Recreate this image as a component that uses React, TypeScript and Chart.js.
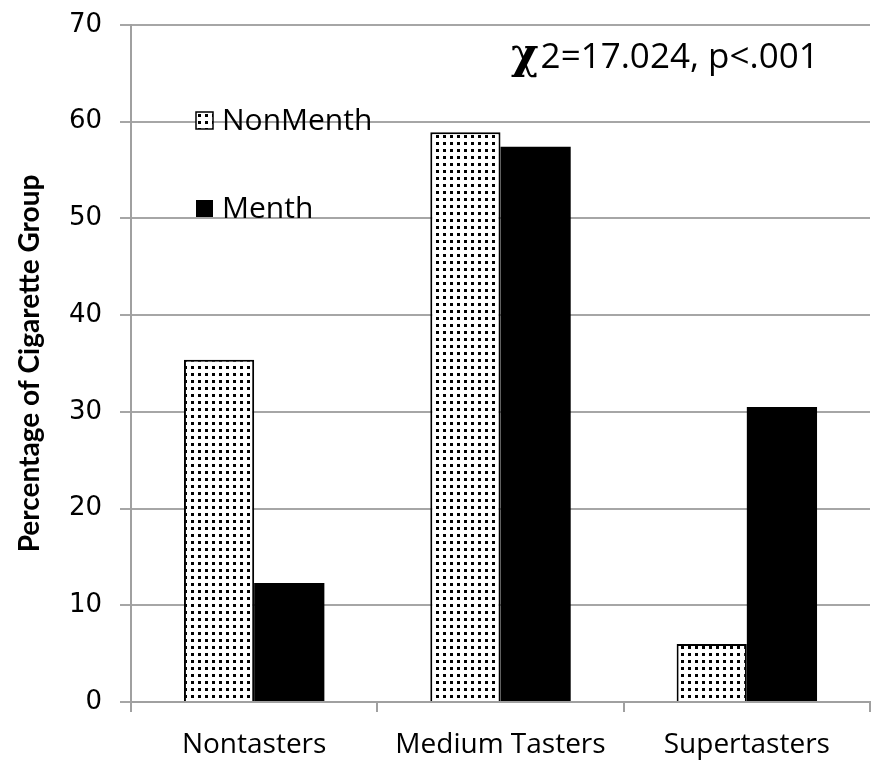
import React, { useEffect, useRef } from "react";
import { Chart, registerables } from "chart.js";

Chart.register(...registerables);

const categories = ["Nontasters", "Medium Tasters", "Supertasters"];
const nonMenth = [35.4, 58.9, 6.0];
const menth = [12.3, 57.4, 30.5];
const seriesNames = ["NonMenth", "Menth"];
const yTicks = [0, 10, 20, 30, 40, 50, 60, 70];
const statText = "2=17.024, p<.001";

function makePattern(): CanvasPattern | string {
  const c = document.createElement("canvas");
  c.width = 7;
  c.height = 7;
  const g = c.getContext("2d");
  if (!g) return "#fff";
  g.fillStyle = "#ffffff";
  g.fillRect(0, 0, 7, 7);
  g.fillStyle = "#000000";
  g.fillRect(2, 2, 3, 3);
  const p = g.createPattern(c, "repeat");
  return p || "#fff";
}

export default function App() {
  const ref = useRef<HTMLCanvasElement>(null);
  useEffect(() => {
    document.body.style.margin = "0";
    const canvas = ref.current;
    if (!canvas) return;
    const pattern = makePattern();
    const overlay = {
      id: "overlay",
      afterDraw(chart: any) {
        const ctx = chart.ctx;
        ctx.save();
        // legend
        ctx.fillStyle = pattern;
        ctx.fillRect(196, 112, 17, 17);
        ctx.strokeStyle = "#000";
        ctx.lineWidth = 1.5;
        ctx.strokeRect(196, 112, 17, 17);
        ctx.fillStyle = "#000";
        ctx.fillRect(196, 200, 17, 17);
        ctx.font = "30px 'Open Sans'";
        ctx.textBaseline = "middle";
        ctx.textAlign = "left";
        ctx.fillText(seriesNames[0], 222, 121);
        ctx.fillText(seriesNames[1], 222, 209);
        // statistic
        ctx.font = "bold 42px 'DejaVu Serif'";
        ctx.textBaseline = "alphabetic";
        ctx.fillText("\u03C7", 511, 68);
        const w = ctx.measureText("\u03C7").width;
        ctx.font = "35px 'Open Sans'";
        ctx.fillText(statText, 511 + w + 2, 68);
        ctx.restore();
      },
    };
    const chart = new Chart(canvas, {
      type: "bar",
      data: {
        labels: categories,
        datasets: [
          {
            label: seriesNames[0],
            data: nonMenth,
            backgroundColor: pattern as any,
            borderColor: "#000",
            borderWidth: 2,
          },
          {
            label: seriesNames[1],
            data: menth,
            backgroundColor: "#000",
            borderColor: "#000",
            borderWidth: 0,
          },
        ],
      },
      options: {
        responsive: false,
        animation: false,
        datasets: { bar: { barPercentage: 1, categoryPercentage: 0.57 } },
        layout: { padding: { left: 0, right: 24, top: 25, bottom: 0 } },
        plugins: { legend: { display: false }, tooltip: { enabled: false } },
        scales: {
          x: {
            grid: {
              drawOnChartArea: false,
              color: "#a0a0a0",
              lineWidth: 2,
              tickLength: 10,
              offset: true,
            },
            border: { color: "#a0a0a0", width: 2 },
            ticks: {
              color: "#000",
              font: { family: "'Open Sans'", size: 28 },
              padding: 16,
            },
            afterFit(scale: any) {
              scale.height = 67;
              scale.paddingLeft = 0;
              scale.paddingRight = 0;
            },
          },
          y: {
            min: 0,
            max: 70,
            afterBuildTicks(scale: any) {
              scale.ticks = yTicks.map((v) => ({ value: v }));
            },
            grid: { color: "#a6a6a6", lineWidth: 2, tickLength: 11 },
            border: { color: "#a0a0a0", width: 2 },
            ticks: {
              color: "#000",
              font: { family: "'DejaVu Sans'", size: 26 },
              padding: 18,
            },
            title: {
              display: true,
              text: "Percentage of Cigarette Group",
              color: "#000",
              font: { family: "'Lato'", size: 28, weight: "bold" },
              padding: { top: 13, bottom: 0 },
            },
            afterFit(scale: any) {
              scale.width = 131;
              scale.paddingTop = 0;
              scale.paddingBottom = 0;
            },
          },
        },
      },
      plugins: [overlay],
    });
    return () => chart.destroy();
  }, []);
  return (
    <div style={{ width: 894, height: 769 }}>
      <canvas ref={ref} width={894} height={769} style={{ display: "block" }} />
    </div>
  );
}
